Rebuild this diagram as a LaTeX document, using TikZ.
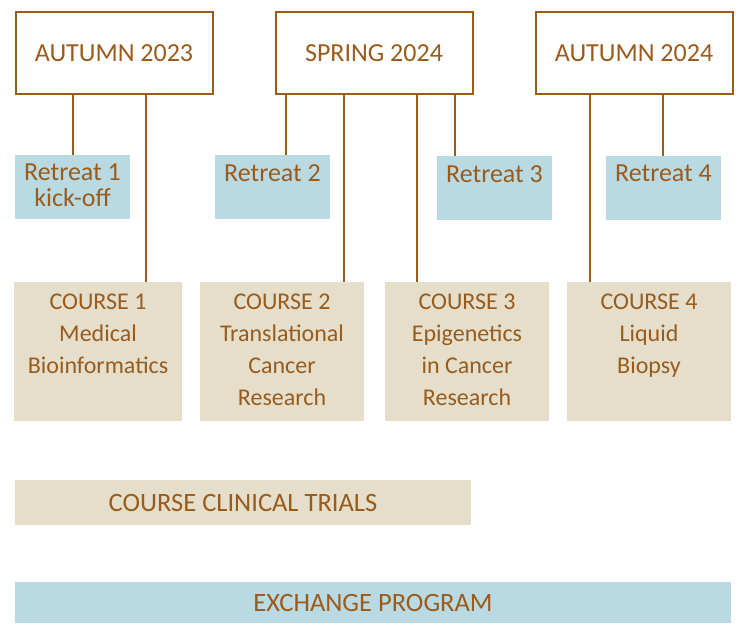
\documentclass[tikz,border=0pt]{standalone}
\usepackage{fontspec}
\setmainfont{Carlito}
\usetikzlibrary{positioning}
\definecolor{tbrown}{HTML}{9A5B1B}
\definecolor{retreatblue}{HTML}{B9DAE3}
\definecolor{coursebeige}{HTML}{E4DECB}
\tikzset{%
    season/.style={%
        draw=tbrown, line width=2pt, fill=white, minimum width=197pt, minimum height=82pt,
        anchor=north west, text=tbrown, font=\fontsize{26}{31}\selectfont
    },
    toptext/.style={%
        anchor=north, align=center, inner sep=0pt, text=tbrown
    },
    retreat/.style={%
        fill=retreatblue, minimum width=115pt, minimum height=64pt, anchor=north west,
        inner sep=0pt, outer sep=0pt,
        label={[toptext, label distance=-9pt, font=\fontsize{26}{26}\selectfont]north:#1}
    },
    course/.style={%
        fill=coursebeige, minimum width=164pt, minimum height=139pt, anchor=north west,
        inner sep=0pt, outer sep=0pt,
        label={[toptext, label distance=-12pt, font=\fontsize{24}{32}\selectfont]north:#1}
    },
    bar/.style={%
        anchor=north west, inner sep=0pt, outer sep=0pt, text=tbrown,
        font=\fontsize{26.5}{30}\selectfont
    },
    link/.style={%
        draw=tbrown, line width=2pt
    },
}
\begin{document}
\begin{tikzpicture}[x=1pt,y=-1pt]
  \useasboundingbox (0,0) rectangle (736,628);
  % terms
  \node[season] (s1) at (14.5,11.5) {AUTUMN 2023};
  \node[season] (s2) at (274.5,11.5) {SPRING 2024};
  \node[season] (s3) at (534.5,11.5) {AUTUMN 2024};
  % retreats
  \node[retreat={Retreat 1\\kick-off}] (r1) at (15,155) {};
  \node[retreat={Retreat 2}] (r2) at (215,155) {};
  \node[retreat={Retreat 3}] (r3) at (437,156) {};
  \node[retreat={Retreat 4}] (r4) at (606,156) {};
  % courses
  \node[course={COURSE 1\\Medical\\Bioinformatics}, minimum width=168pt] (c1) at (14,282) {};
  \node[course={COURSE 2\\Translational\\Cancer\\Research}] (c2) at (200,282) {};
  \node[course={COURSE 3\\Epigenetics\\in Cancer\\Research}] (c3) at (385,282) {};
  \node[course={COURSE 4\\Liquid\\Biopsy}] (c4) at (567,282) {};
  % long-running parts
  \node[bar, fill=coursebeige, minimum width=456pt, minimum height=45pt] (ct) at (15,480) {COURSE CLINICAL TRIALS};
  \node[bar, fill=retreatblue, minimum width=716pt, minimum height=41pt] (ex) at (15,582) {EXCHANGE PROGRAM};
  % links
  \draw[link] (s1.south -| 73,0) -- (r1.north -| 73,0);
  \draw[link] (s1.south -| 146,0) -- (c1.north -| 146,0);
  \draw[link] (s2.south -| 286,0) -- (r2.north -| 286,0);
  \draw[link] (s2.south -| 344,0) -- (c2.north -| 344,0);
  \draw[link] (s2.south -| 417,0) -- (c3.north -| 417,0);
  \draw[link] (s2.south -| 455,0) -- (r3.north -| 455,0);
  \draw[link] (s3.south -| 590,0) -- (c4.north -| 590,0);
  \draw[link] (s3.south -| 663,0) -- (r4.north -| 663,0);
\end{tikzpicture}
\end{document}
